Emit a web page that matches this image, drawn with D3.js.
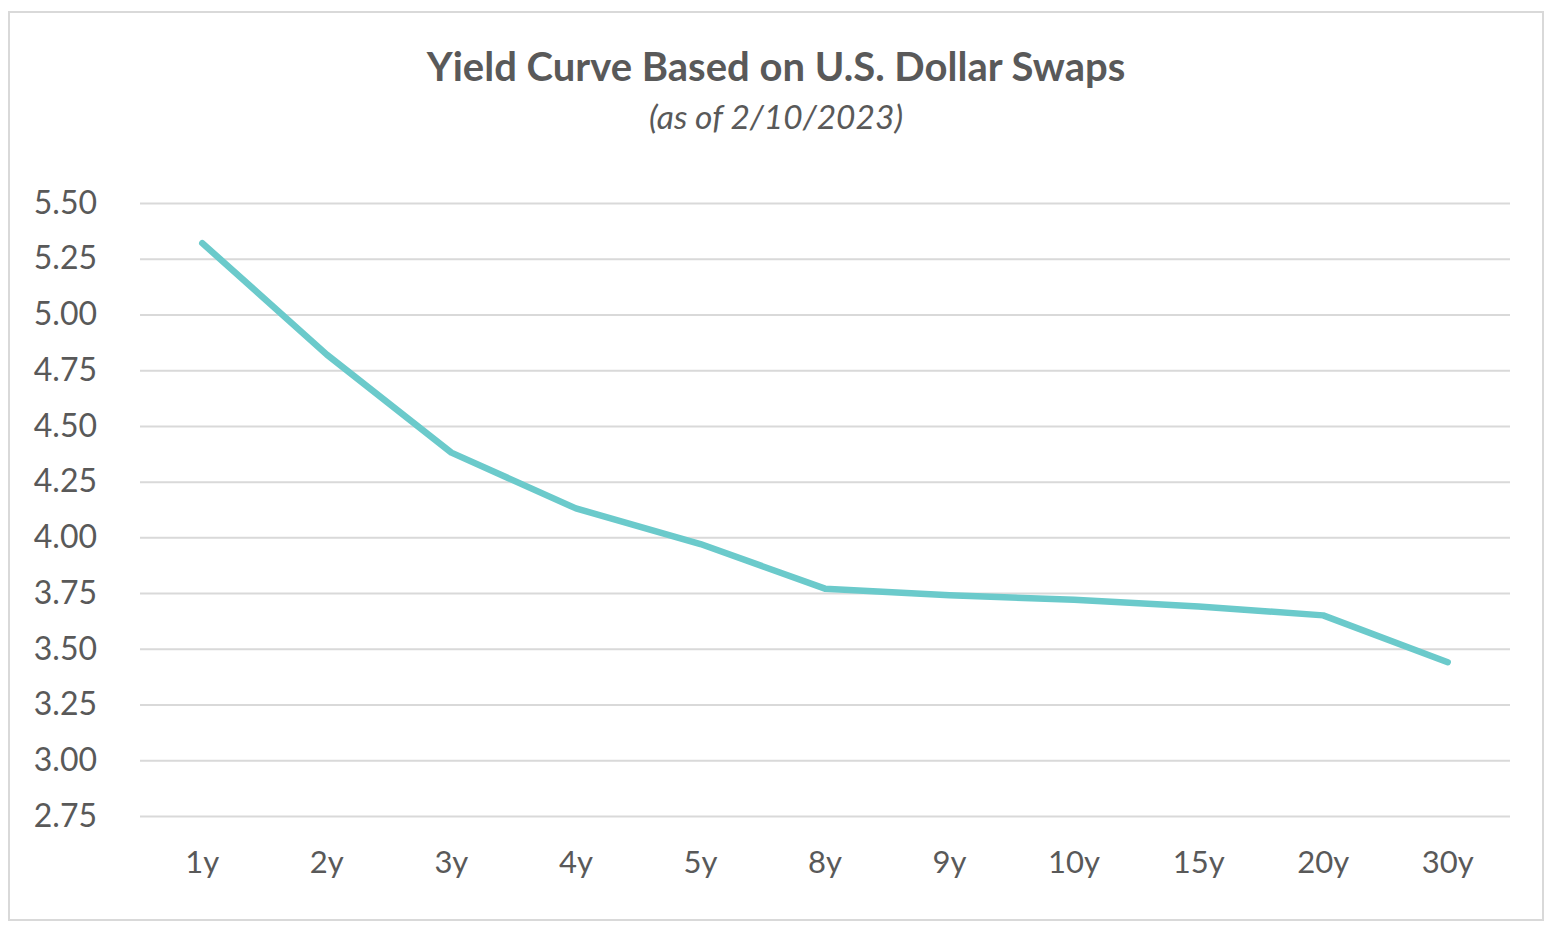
<!DOCTYPE html>
<html><head><meta charset="utf-8">
<script src="https://cdn.jsdelivr.net/npm/d3@7"></script>
<style>body{margin:0;background:#fff;}svg{display:block;}</style>
</head><body>
<svg id="c" width="1550" height="930"></svg>
<script>
const tenors = ["1y","2y","3y","4y","5y","8y","9y","10y","15y","20y","30y"];
const yields = [5.32, 4.82, 4.38, 4.13, 3.97, 3.77, 3.74, 3.72, 3.69, 3.65, 3.44];
const yTicks = [2.75, 3.00, 3.25, 3.50, 3.75, 4.00, 4.25, 4.50, 4.75, 5.00, 5.25, 5.50];
const titleText = "Yield Curve Based on U.S. Dollar Swaps";
const subtitleText = "(as of 2/10/2023)";

(function(){
const svg = d3.select("#c");
const font = "Lato, 'Open Sans', sans-serif";
const textColor = "#595959";

svg.append("rect").attr("x",9).attr("y",12).attr("width",1534).attr("height",908)
  .attr("fill","#fff").attr("stroke","#d9d9d9").attr("stroke-width",2);

svg.append("text").attr("x",776).attr("y",81).attr("text-anchor","middle")
  .attr("font-family",font).attr("font-weight","bold").attr("font-size",40)
  .attr("fill",textColor).text(titleText);
svg.append("text").attr("x",776).attr("y",129).attr("text-anchor","middle")
  .attr("font-family",font).attr("font-style","italic").attr("font-size",33.5)
  .attr("fill",textColor).text(subtitleText);

const pl = 140, pr = 1510, pt = 203, pb = 816;
const x = d3.scaleBand().domain(tenors).range([pl,pr]).padding(0);
const y = d3.scaleLinear().domain([2.75,5.50]).range([pb,pt]);

const yAxis = d3.axisLeft(y).tickValues(yTicks).tickFormat(d3.format(".2f"))
  .tickSize(-(pr-pl)).tickPadding(43);
const gy = svg.append("g").attr("transform",`translate(${pl},0)`).call(yAxis);
gy.select(".domain").remove();
gy.selectAll(".tick line").attr("stroke","#d9d9d9").attr("stroke-width",2);
gy.selectAll(".tick text").attr("font-family",font).attr("font-size",32).attr("fill",textColor);

const xAxis = d3.axisBottom(x).tickSize(0).tickPadding(35);
const gx = svg.append("g").attr("transform",`translate(0,${pb})`).call(xAxis);
gx.select(".domain").remove();
gx.selectAll(".tick text").attr("font-family",font).attr("font-size",31).attr("fill",textColor);

const line = d3.line().x((d,i)=>x(tenors[i])+x.bandwidth()/2).y(d=>y(d));
svg.append("path").datum(yields).attr("d",line).attr("fill","none")
  .attr("stroke","#6bcacb").attr("stroke-width",6.5)
  .attr("stroke-linecap","round").attr("stroke-linejoin","round");
})();
</script>
</body></html>
